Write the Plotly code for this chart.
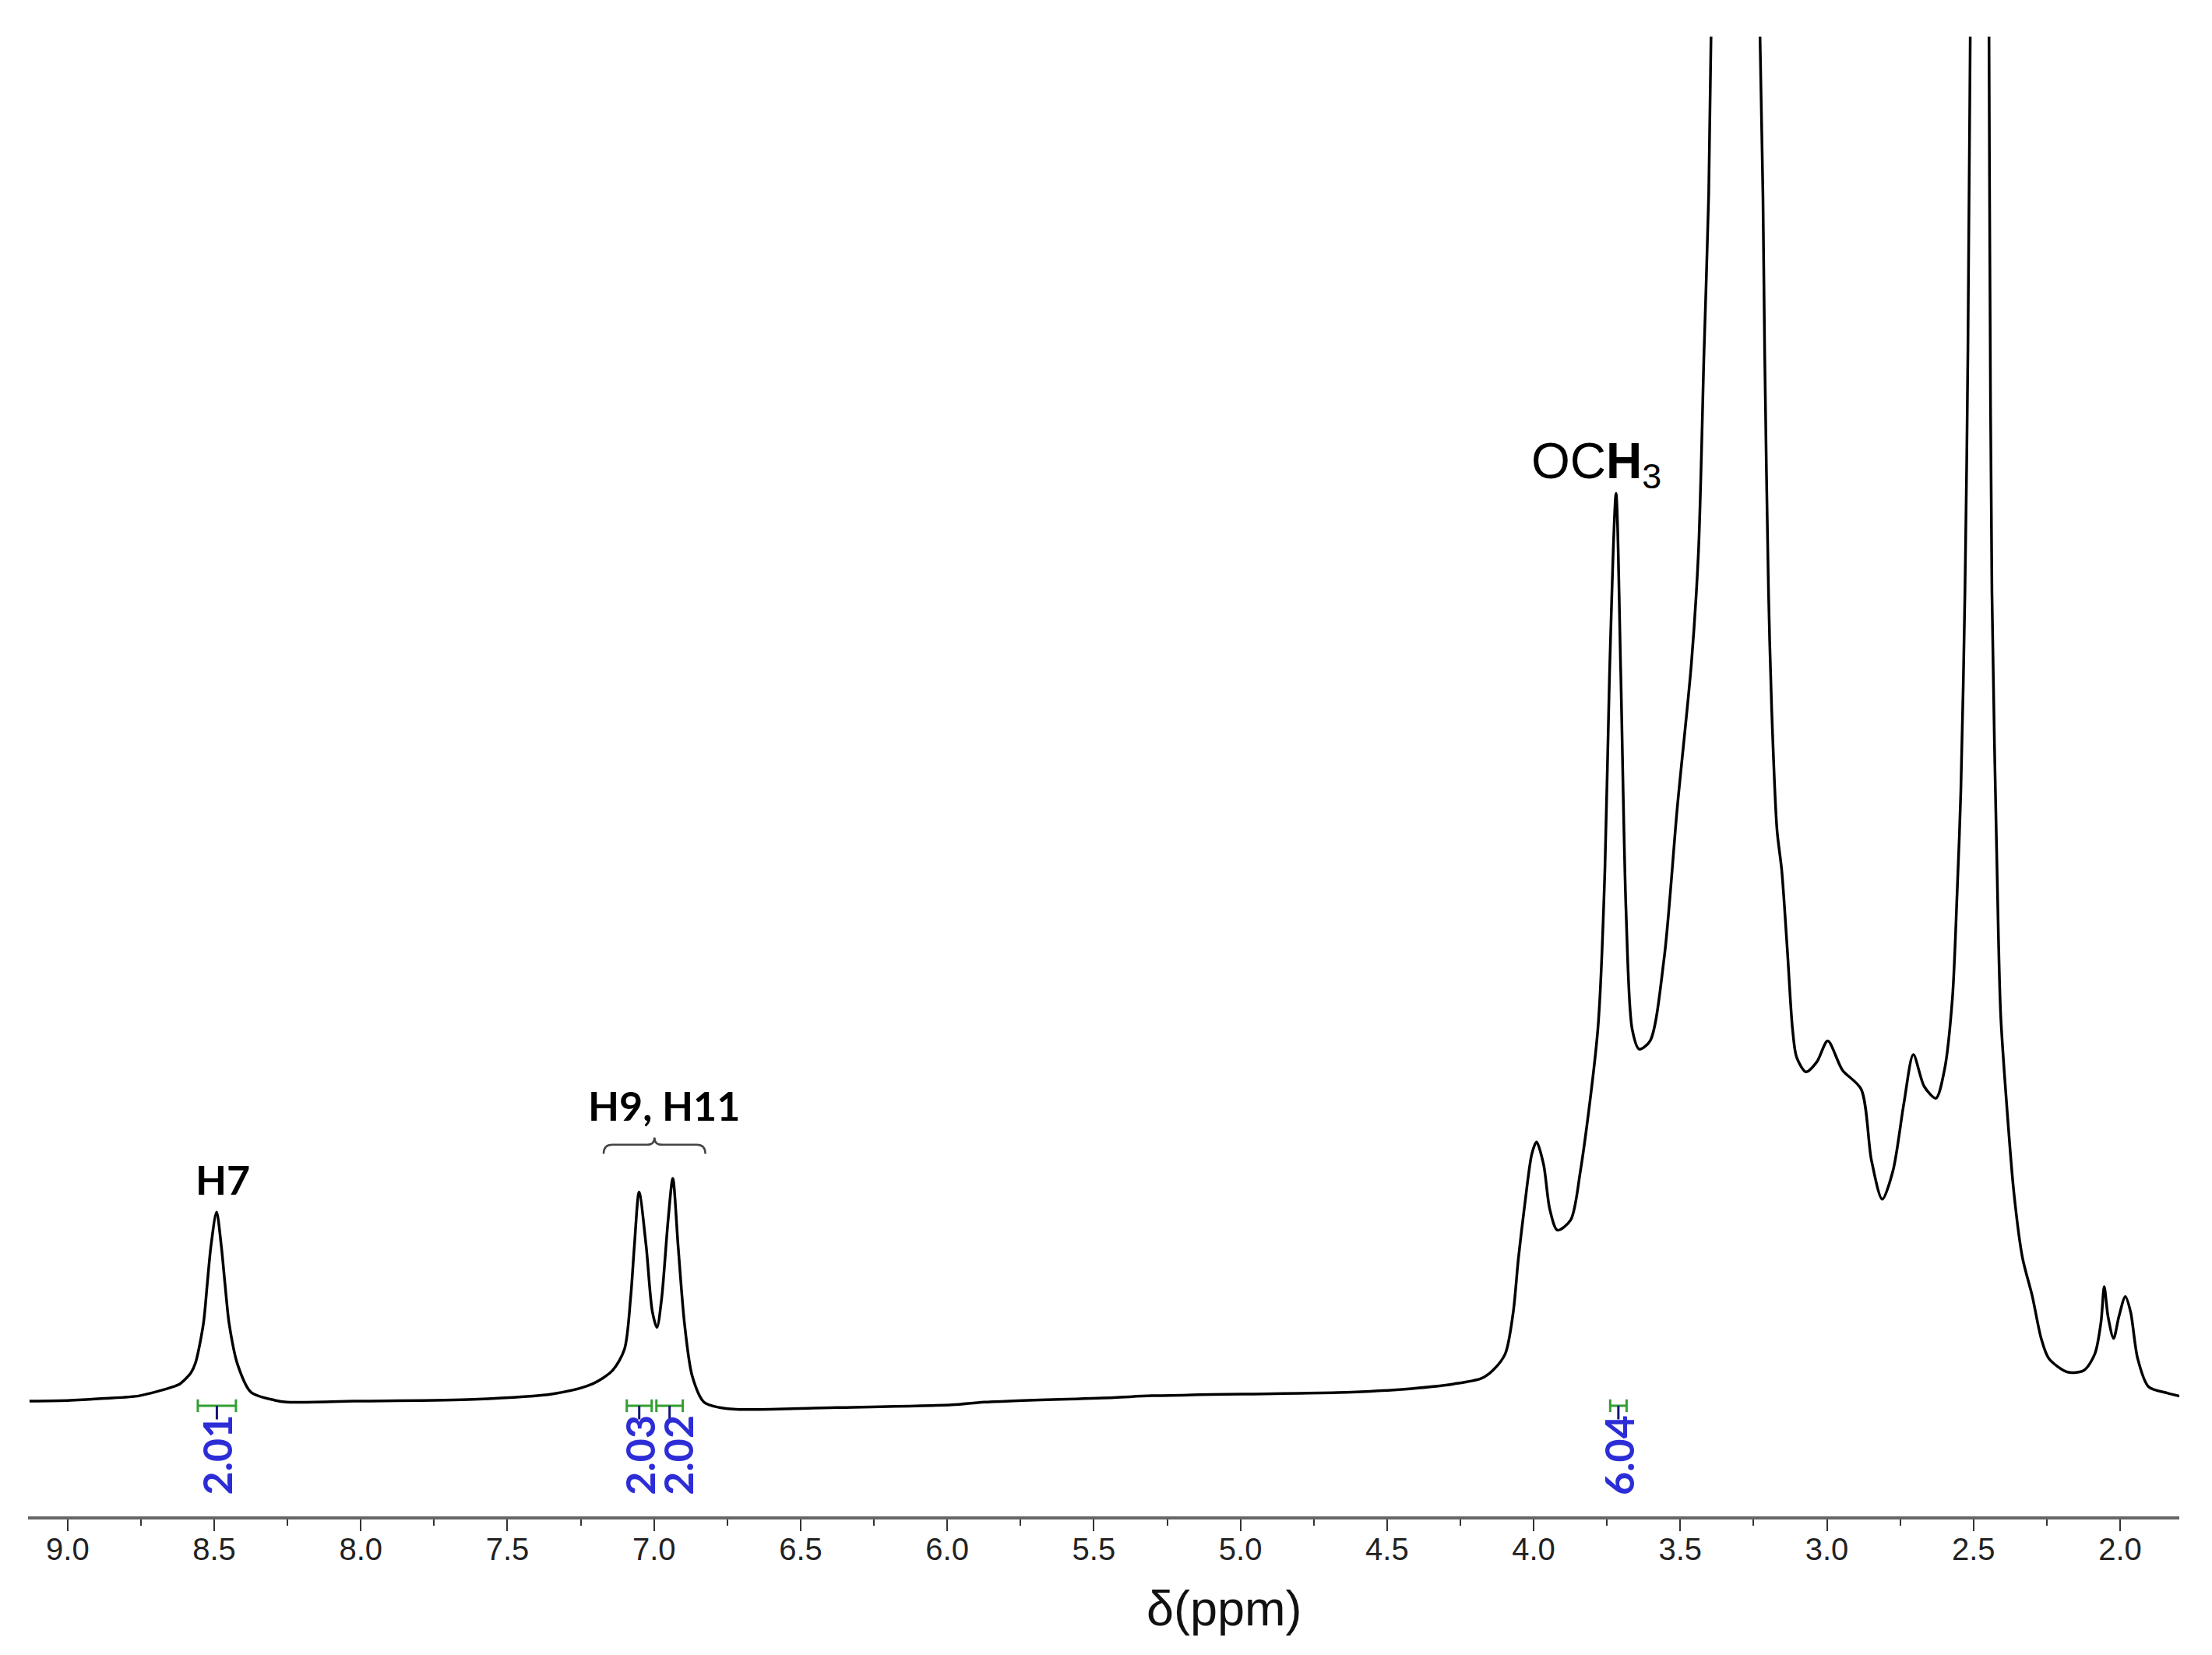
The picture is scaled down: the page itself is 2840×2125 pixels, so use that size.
import plotly.graph_objects as go

# espectro 1H RMN (δ en ppm, intensidad relativa, OCH3 ~ 100)
ppm = [9.13, 8.99, 8.875, 8.755, 8.639, 8.617, 8.580, 8.564, 8.537, 8.524, 8.511,
       8.492, 8.476, 8.463, 8.449, 8.420, 8.375, 8.293, 8.253, 8.022, 7.616,
       7.345, 7.210, 7.141, 7.101, 7.080, 7.067, 7.051, 7.027, 7.006, 6.990,
       6.974, 6.952, 6.936, 6.918, 6.896, 6.870, 6.830, 6.776, 6.710, 6.381,
       5.985, 5.873, 5.432, 5.302, 4.620, 4.450, 4.272, 4.179, 4.139, 4.097,
       4.070, 4.052, 4.030, 4.006, 3.990, 3.966, 3.945, 3.919, 3.874, 3.841,
       3.781, 3.757, 3.741, 3.719, 3.703, 3.685, 3.664, 3.640, 3.603, 3.555,
       3.510, 3.462, 3.438, 3.419, 3.403, 3.395, 3.31, 3.228, 3.218, 3.212,
       3.199, 3.188, 3.170, 3.154, 3.135, 3.117, 3.103, 3.071, 3.034, 2.997,
       2.947, 2.883, 2.848, 2.811, 2.774, 2.737, 2.705, 2.668, 2.628, 2.599,
       2.572, 2.556, 2.543, 2.529, 2.519, 2.511, 2.48, 2.447, 2.445, 2.437,
       2.415, 2.407, 2.389, 2.362, 2.333, 2.299, 2.269, 2.243, 2.179, 2.123,
       2.086, 2.065, 2.054, 2.041, 2.022, 2.004, 1.982, 1.964, 1.940, 1.903,
       1.839, 1.789]
intensidad = [-0.1, 0.0, 0.2, 0.5, 1.5, 1.8, 3.0, 4.1, 8.4, 12.7, 17.0,
              20.7, 17.0, 12.7, 8.4, 3.9, 0.9, 0.0, -0.2, -0.1, 0.1,
              0.7, 1.8, 3.3, 5.6, 11.2, 17.0, 22.9, 17.0, 9.8, 8.0,
              11.2, 19.8, 24.4, 17.0, 8.4, 2.7, -0.2, -0.8, -1.0, -0.8,
              -0.5, -0.2, 0.3, 0.5, 0.9, 1.2, 1.8, 2.4, 3.3, 5.1,
              9.6, 15.6, 21.6, 27.1, 28.4, 25.9, 21.0, 18.7, 19.8, 25.1,
              40.8, 58.3, 80.1, 99.7, 80.1, 53.9, 40.8, 38.6, 39.5, 48.6,
              65.2, 81.0, 93.2, 115.1, 132.5, 149.9, 260.0, 149.9, 132.5, 115.1,
              88.9, 75.8, 62.7, 58.3, 49.6, 40.8, 37.7, 36.1, 37.2, 39.5,
              36.3, 34.2, 26.4, 22.1, 25.3, 32.7, 38.0, 34.5, 33.2, 36.3,
              44.1, 55.5, 67.0, 88.9, 115.1, 149.9, 300.0, 149.9, 132.5, 88.9,
              51.2, 42.3, 33.5, 22.8, 15.7, 11.4, 6.8, 4.6, 3.1, 3.3,
              5.1, 8.6, 12.5, 9.2, 6.8, 9.2, 11.4, 9.7, 4.6, 1.5,
              0.8, 0.4]

# integrales
integ_desde = [8.556, 7.093, 6.992, 3.739]
integ_hasta = [8.426, 7.008, 6.902, 3.683]
integ_valor = ['2.01', '2.03', '2.02', '6.04']
integ_nudge = [0, 0, 10, 0]

# asignaciones
etiquetas = ['H7', 'H9, H11', 'OC<b>H</b><sub>3</sub>']
etiq_ppm = [8.471, 6.965, 3.786]
etiq_int = [24.3, 32.4, 102.9]

# llave sobre H9, H11
llave_izq, llave_der, llave_y = 7.172, 6.825, 28.1

verde = 'rgb(50,160,50)'
azul = 'rgb(45,45,215)'

fig = go.Figure()
fig.add_trace(go.Scatter(x=ppm, y=intensidad, mode='lines',
                         line=dict(color='black', width=3.5, shape='spline', smoothing=0.8),
                         showlegend=False, hoverinfo='skip'))

shapes = []
for a, b, n in zip(integ_desde, integ_hasta, integ_nudge):
    c = (a + b) / 2
    shapes.append(dict(type='line', x0=a, x1=b, y0=-0.6, y1=-0.6,
                       line=dict(color=verde, width=3)))
    for e in (a, b):
        shapes.append(dict(type='line', x0=e, x1=e, y0=0.1, y1=-1.3,
                           line=dict(color=verde, width=3)))
    shapes.append(dict(type='line', x0=c, x1=c, y0=-0.6, y1=-2.1,
                       line=dict(color='rgb(20,20,120)', width=3)))

m = (llave_izq + llave_der) / 2
path = (f"M {llave_izq},{llave_y-1.0} Q {llave_izq},{llave_y} {llave_izq-0.03},{llave_y} "
        f"L {m+0.025},{llave_y} Q {m},{llave_y} {m},{llave_y+0.8} "
        f"Q {m},{llave_y} {m-0.025},{llave_y} L {llave_der+0.03},{llave_y} "
        f"Q {llave_der},{llave_y} {llave_der},{llave_y-1.0}")
shapes.append(dict(type='path', path=path, line=dict(color='#444', width=2.5)))

annotations = []
for a, b, v, n in zip(integ_desde, integ_hasta, integ_valor, integ_nudge):
    annotations.append(dict(x=(a + b) / 2, y=-6.0, text=v, textangle=-90, showarrow=False,
                            xanchor='center', yanchor='middle', xshift=n,
                            font=dict(family='Lato', size=52, color=azul, weight='bold')))
for t, x, y in zip(etiquetas, etiq_ppm, etiq_int):
    if t.startswith('OC'):
        f = dict(family='Liberation Sans', size=64, color='black')
    else:
        f = dict(family='Lato', size=52, color='black', weight='bold')
    annotations.append(dict(x=x, y=y, text=t, showarrow=False, xanchor='center',
                            yanchor='middle', font=f))
annotations.append(dict(x=0.556, y=-0.062, xref='paper', yref='paper', text='δ(ppm)',
                        showarrow=False, xanchor='center', yanchor='middle',
                        font=dict(family='Liberation Sans', size=63, color='#111')))

# la página añade 8 px de margen al cuerpo: figura 16 px más pequeña
fig.update_layout(
    width=2824, height=2109, autosize=False,
    margin=dict(l=28, r=34, t=39, b=170),
    plot_bgcolor='white', paper_bgcolor='white',
    shapes=shapes, annotations=annotations,
    xaxis=dict(range=[9.135, 1.798], tick0=0, dtick=0.5, tickformat='.1f',
               showgrid=False, zeroline=False, showline=True, linecolor='#666',
               linewidth=4, ticks='outside', ticklen=15, tickwidth=2, tickcolor='#333',
               tickfont=dict(family='Liberation Sans', size=40, color='#222'),
               ticklabelstandoff=-11,
               minor=dict(ticks='outside', dtick=0.25, tick0=0, ticklen=8,
                          tickwidth=2, tickcolor='#333', showgrid=False)),
    yaxis=dict(range=[-12.76, 149.9], visible=False, showgrid=False, zeroline=False),
)

fig.write_html("out.html")
